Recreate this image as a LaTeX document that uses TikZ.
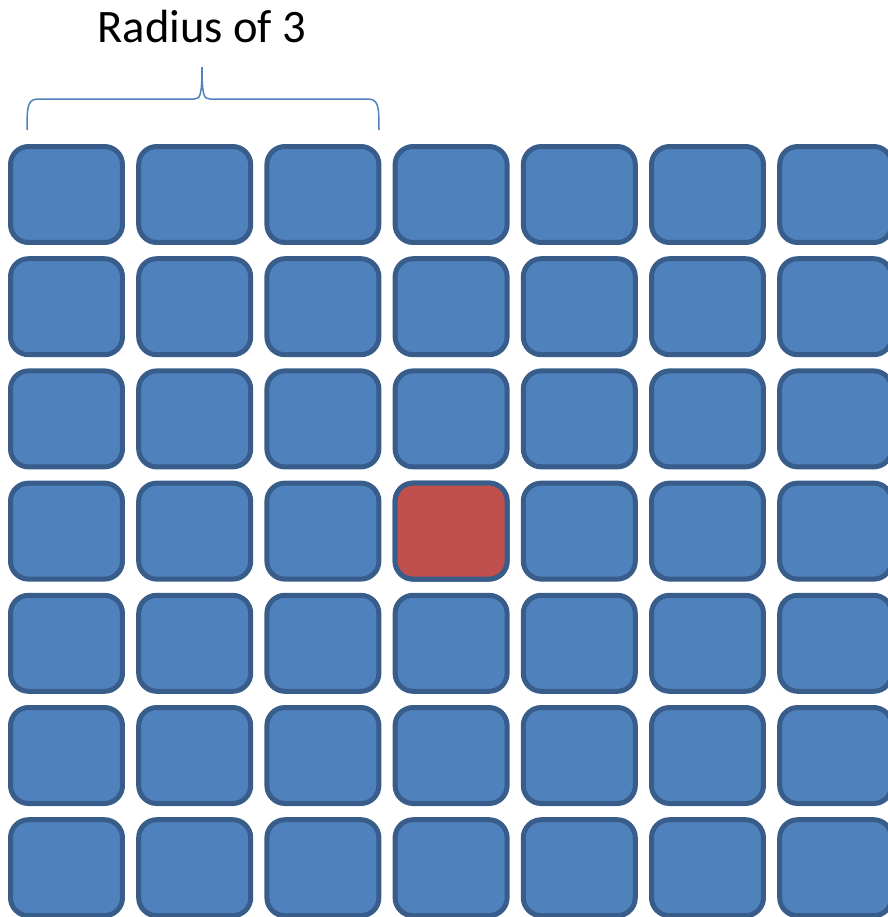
\documentclass[tikz,border=0pt]{standalone}
\usepackage{fontspec}
\setmainfont{Carlito}
\usepackage{xcolor}
\usepackage{tikz}
\usetikzlibrary{positioning}

\definecolor{cellblue}{RGB}{79,129,189}
\definecolor{celledge}{RGB}{56,93,138}
\definecolor{cellred}{RGB}{192,80,77}

\begin{document}
\begin{tikzpicture}[
  x=0.02cm, y=-0.02cm,
  cell/.style={rectangle, rounded corners=0.36cm, draw=celledge, line width=0.1cm, fill=cellblue, minimum width=2.24cm, minimum height=1.92cm, inner sep=0pt},
  center/.style={cell, fill=cellred},
  bracket/.style={draw=cellblue, line width=0.03cm},
  title/.style={font=\fontsize{26.5}{30}\selectfont, anchor=base, inner sep=0pt}
]
  \clip (0,0) rectangle (888,917);

  % Title
  \node[title] (label) at (202,42) {Radius of 3};

  % Grid of cells
  \foreach \r in {0,...,6} {
    \foreach \c in {0,...,6} {
      \node[cell] (cell-\r-\c) at ({66.5+128.2*\c},{194.5+112.2*\r}) {};
    }
  }
  \node[center] (cell-3-3) at ({66.5+128.2*3},{194.5+112.2*3}) {};

  % Brace over the first three columns
  \coordinate (bl) at (27,130);
  \coordinate (tip) at (202,67);
  \coordinate (br) at (379,130);
  \draw[bracket] (bl) .. controls (27,103) and (28,99) .. (40,99) -- (194,99)
    .. controls (200,99) and (202,96) .. (tip)
    .. controls (202,96) and (204,99) .. (210,99) -- (366,99)
    .. controls (378,99) and (379,103) .. (br);
\end{tikzpicture}
\end{document}
